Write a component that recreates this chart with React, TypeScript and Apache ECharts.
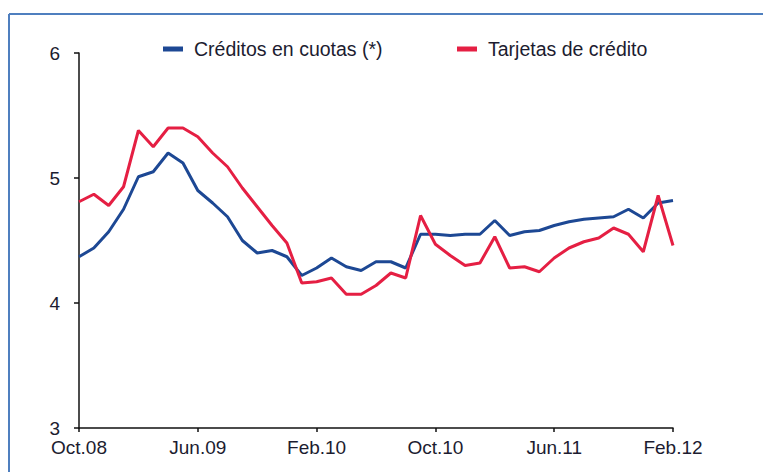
import React, { useEffect, useRef } from "react";
import * as echarts from "echarts";

const months = [
  "Oct.08", "Nov.08", "Dic.08", "Ene.09", "Feb.09", "Mar.09", "Abr.09", "May.09",
  "Jun.09", "Jul.09", "Ago.09", "Sep.09", "Oct.09", "Nov.09", "Dic.09", "Ene.10",
  "Feb.10", "Mar.10", "Abr.10", "May.10", "Jun.10", "Jul.10", "Ago.10", "Sep.10",
  "Oct.10", "Nov.10", "Dic.10", "Ene.11", "Feb.11", "Mar.11", "Abr.11", "May.11",
  "Jun.11", "Jul.11", "Ago.11", "Sep.11", "Oct.11", "Nov.11", "Dic.11", "Ene.12",
  "Feb.12",
];

const creditosCuotas = [
  4.37, 4.44, 4.57, 4.75, 5.01, 5.05, 5.20, 5.12, 4.90, 4.80,
  4.69, 4.50, 4.40, 4.42, 4.37, 4.22, 4.28, 4.36, 4.29, 4.26,
  4.33, 4.33, 4.28, 4.55, 4.55, 4.54, 4.55, 4.55, 4.66, 4.54,
  4.57, 4.58, 4.62, 4.65, 4.67, 4.68, 4.69, 4.75, 4.68, 4.80,
  4.82,
];

const tarjetasCredito = [
  4.81, 4.87, 4.78, 4.93, 5.38, 5.25, 5.40, 5.40, 5.33, 5.20,
  5.09, 4.92, 4.77, 4.62, 4.48, 4.16, 4.17, 4.20, 4.07, 4.07,
  4.14, 4.24, 4.20, 4.70, 4.47, 4.38, 4.30, 4.32, 4.53, 4.28,
  4.29, 4.25, 4.36, 4.44, 4.49, 4.52, 4.60, 4.55, 4.41, 4.86,
  4.46,
];

const seriesNames = ["Créditos en cuotas (*)", "Tarjetas de crédito"];

const FONT = "'Liberation Sans Narrow', 'Arial Narrow', sans-serif";
const TEXT = "#1c1c30";
const BLUE = "#1d4894";
const RED = "#e51f43";

export default function App() {
  const ref = useRef<HTMLDivElement>(null);

  useEffect(() => {
    if (!ref.current) return;
    const chart = echarts.init(ref.current, null, { renderer: "svg" });
    const legendText = {
      fontFamily: FONT,
      fontSize: 19.5,
      color: TEXT,
      padding: [0, 0, 0, 6],
    };
    chart.setOption({
      animation: false,
      backgroundColor: "#ffffff",
      textStyle: { fontFamily: FONT },
      graphic: [
        {
          type: "line",
          shape: { x1: 9, y1: 14, x2: 763, y2: 14 },
          style: { stroke: "#4f7fbf", lineWidth: 2 },
        },
        {
          type: "line",
          shape: { x1: 9, y1: 14, x2: 9, y2: 472 },
          style: { stroke: "#4f7fbf", lineWidth: 2 },
        },
      ],
      legend: [
        {
          data: [seriesNames[0]],
          left: 163,
          top: 39,
          padding: 0,
          icon: "rect",
          itemWidth: 20,
          itemHeight: 5,
          textStyle: legendText,
        },
        {
          data: [seriesNames[1]],
          left: 457,
          top: 39,
          padding: 0,
          icon: "rect",
          itemWidth: 20,
          itemHeight: 5,
          textStyle: legendText,
        },
      ],
      grid: { left: 79, right: 90, top: 53, bottom: 44, containLabel: false },
      xAxis: {
        type: "category",
        data: months,
        boundaryGap: false,
        axisLine: { show: true, lineStyle: { color: "#111", width: 1.5 } },
        axisTick: { show: true, interval: 7, length: 4, lineStyle: { color: "#111", width: 1.5 } },
        axisLabel: { interval: 7, margin: 10, fontSize: 19, color: TEXT, fontFamily: FONT },
        splitLine: { show: false },
      },
      yAxis: {
        type: "value",
        min: 3,
        max: 6,
        interval: 1,
        axisLine: { show: true, lineStyle: { color: "#111", width: 1.5 } },
        axisTick: { show: true, length: 5, lineStyle: { color: "#111", width: 1.5 } },
        axisLabel: { margin: 19, fontSize: 19, color: TEXT, fontFamily: FONT },
        splitLine: { show: false },
      },
      series: [
        {
          name: seriesNames[0],
          type: "line",
          data: creditosCuotas,
          symbol: "none",
          lineStyle: { color: BLUE, width: 3 },
          itemStyle: { color: BLUE },
        },
        {
          name: seriesNames[1],
          type: "line",
          data: tarjetasCredito,
          symbol: "none",
          lineStyle: { color: RED, width: 3 },
          itemStyle: { color: RED },
        },
      ],
    });
    return () => chart.dispose();
  }, []);

  return (
    <div
      ref={ref}
      style={{ position: "fixed", left: 0, top: 0, width: 763, height: 472, background: "#fff" }}
    />
  );
}
